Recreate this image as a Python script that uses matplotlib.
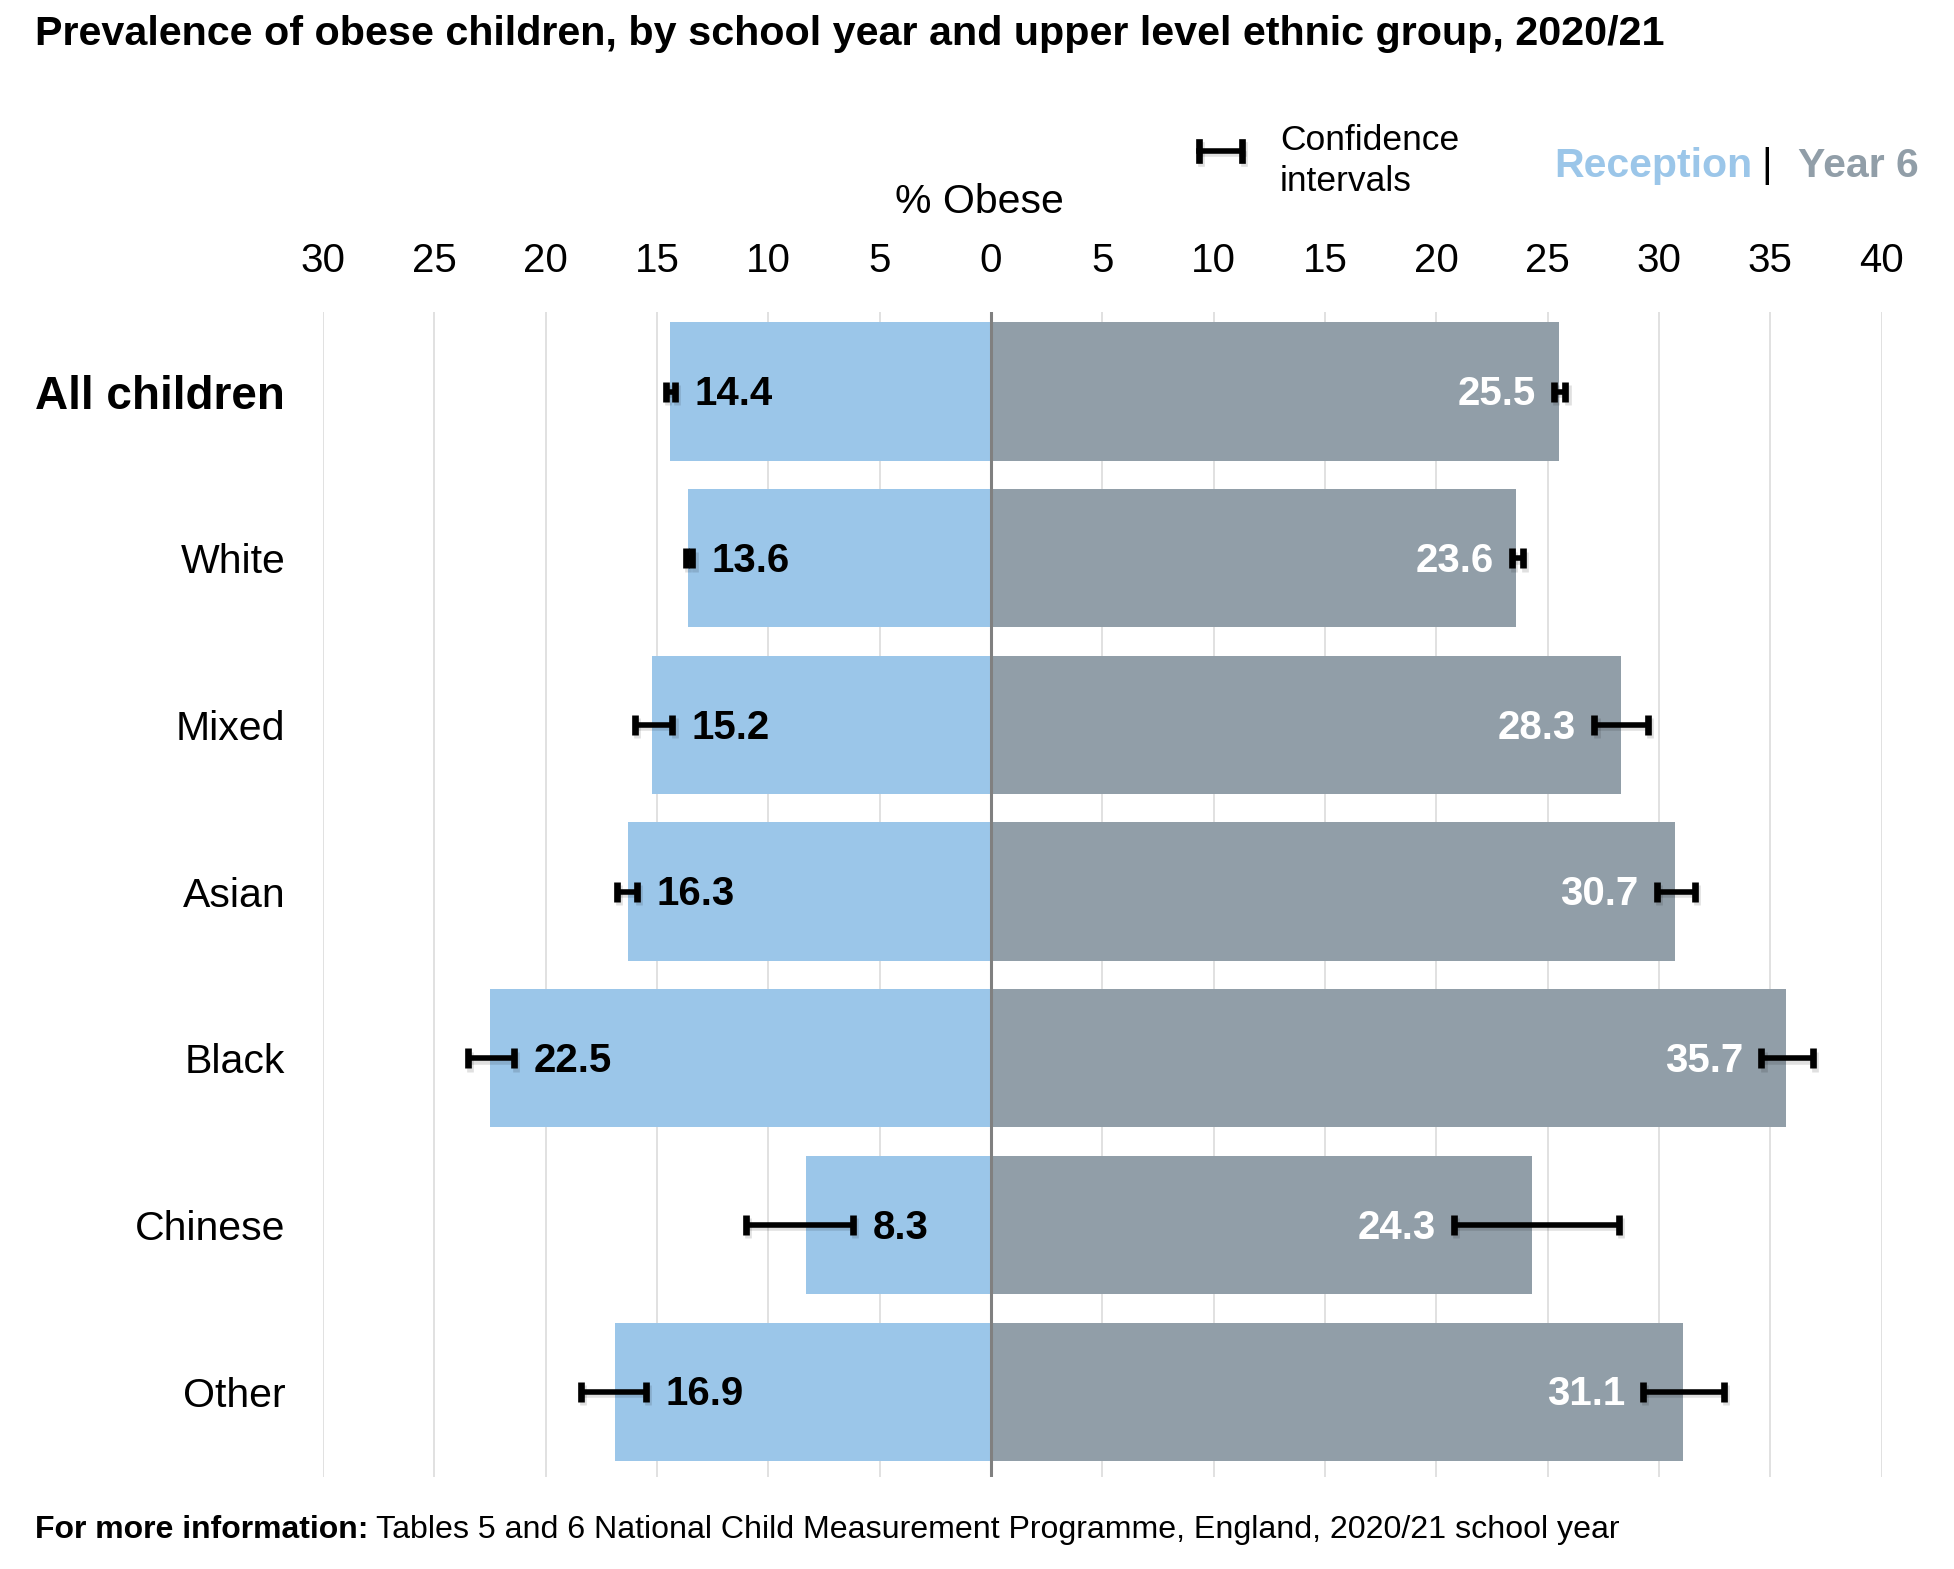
import matplotlib

matplotlib.use("Agg")
import matplotlib.pyplot as plt
import matplotlib.patheffects as pe
from matplotlib.lines import Line2D
import numpy as np

plt.rcParams["font.family"] = ["Liberation Sans", "DejaVu Sans"]

# data
groups = ["All children", "White", "Mixed", "Asian", "Black", "Chinese", "Other"]
reception = [14.4, 13.6, 15.2, 16.3, 22.5, 8.3, 16.9]
reception_lo = [14.2, 13.4, 14.3, 15.9, 21.4, 6.2, 15.5]
reception_hi = [14.6, 13.7, 16.0, 16.8, 23.5, 11.0, 18.4]
year6 = [25.5, 23.6, 28.3, 30.7, 35.7, 24.3, 31.1]
year6_lo = [25.3, 23.4, 27.1, 29.9, 34.6, 20.8, 29.3]
year6_hi = [25.8, 23.9, 29.5, 31.6, 36.9, 28.2, 32.9]
ticks = list(range(-30, 45, 5))

BLUE = "#9bc6e9"
GREY = "#919ea8"
W, H = 1954, 1569

fig = plt.figure(figsize=(W / 100, H / 100), dpi=100)
ax = fig.add_axes([322.8 / W, 1 - 1476.7 / H, 1558.9 / W, 1165.2 / H])

y = np.arange(len(groups))
rec = np.array(reception)
y6 = np.array(year6)

ax.barh(y, -rec, height=0.83, color=BLUE, zorder=2)
ax.barh(y, y6, height=0.83, color=GREY, zorder=2)
ax.axvline(0, color="#808080", lw=2.2, zorder=3)

shadow = [pe.SimpleLineShadow(offset=(1.5, -2.5), shadow_color="k", alpha=0.12), pe.Normal()]

# confidence intervals
rec_err = [rec - np.array(reception_lo), np.array(reception_hi) - rec]
y6_err = [y6 - np.array(year6_lo), np.array(year6_hi) - y6]
for vals, err in [(-rec, rec_err[::-1]), (y6, y6_err)]:
    eb = ax.errorbar(vals, y, xerr=err, fmt="none", ecolor="black", elinewidth=4,
                     capsize=7.2, capthick=4.8, zorder=5)
    for art in eb.lines[1] + eb.lines[2]:
        art.set_path_effects(shadow)

# value labels
for i in range(len(groups)):
    ax.annotate(f"{reception[i]:.1f}", (-reception_lo[i], y[i]), xytext=(14, -2),
                textcoords="offset points", ha="left", va="center",
                fontsize=29, fontweight="bold", color="black", zorder=6)
    ax.annotate(f"{year6[i]:.1f}", (year6_lo[i], y[i]), xytext=(-13, -2),
                textcoords="offset points", ha="right", va="center",
                fontsize=29, fontweight="bold", color="white", zorder=6)

ax.set_xlim(-30, 40)
ax.set_ylim(len(groups) - 0.49, -0.48)
ax.set_xticks(ticks)
ax.set_xticklabels([str(abs(t)) for t in ticks])
ax.xaxis.tick_top()
ax.tick_params(axis="x", length=0, pad=22.5, labelsize=29)
ax.tick_params(axis="y", length=0, pad=27, labelsize=29.5)
ax.set_yticks(y)
ax.set_yticklabels(groups)
lab = ax.get_yticklabels()[0]
lab.set_fontweight("bold")
lab.set_fontsize(33)
ax.grid(axis="x", color="#dcdcdc", lw=1.2, zorder=0)
ax.grid(axis="y", visible=False)
ax.set_axisbelow(True)
for s in ax.spines.values():
    s.set_visible(False)

# titles and legend texts
fig.text(35 / W, 1 - 34 / H, "Prevalence of obese children, by school year and upper level ethnic group, 2020/21",
         fontsize=29.7, fontweight="bold", va="center", ha="left")
fig.text(979 / W, 1 - 202 / H, "% Obese", fontsize=29.5, ha="center", va="center")
fig.text(1280 / W, 1 - 161 / H, "Confidence\nintervals", fontsize=25.5, ha="left", va="center",
         linespacing=1.27)
fig.text(1752 / W, 1 - 166 / H, "Reception", fontsize=29.5, fontweight="bold", color=BLUE,
         ha="right", va="center")
fig.text(1767 / W, 1 - 166 / H, "|", fontsize=29.5, color="black", ha="center", va="center")
fig.text(1798 / W, 1 - 166 / H, "Year 6", fontsize=29.5, fontweight="bold", color=GREY,
         ha="left", va="center")

# legend error bar icon
ly = 1 - 151 / H
x0, x1 = 1199 / W, 1242 / W
for xs, ys, lw in [([x0, x1], [ly, ly], 4),
                   ([x0, x0], [ly - 9 / H, ly + 9 / H], 4.8),
                   ([x1, x1], [ly - 9 / H, ly + 9 / H], 4.8)]:
    ln = Line2D(xs, ys, transform=fig.transFigure, color="black", lw=lw)
    ln.set_path_effects(shadow)
    fig.add_artist(ln)

# footnote
fn = fig.text(35 / W, 1 - 1530 / H, "For more information:", fontsize=23, fontweight="bold",
              ha="left", va="center")
r = fig.canvas.get_renderer()
bb = fn.get_window_extent(renderer=r)
fig.text((bb.x1 + 7) / W, 1 - 1530 / H,
         "Tables 5 and 6 National Child Measurement Programme, England, 2020/21 school year",
         fontsize=23.1, ha="left", va="center")

fig.savefig("out.png", dpi=100)
